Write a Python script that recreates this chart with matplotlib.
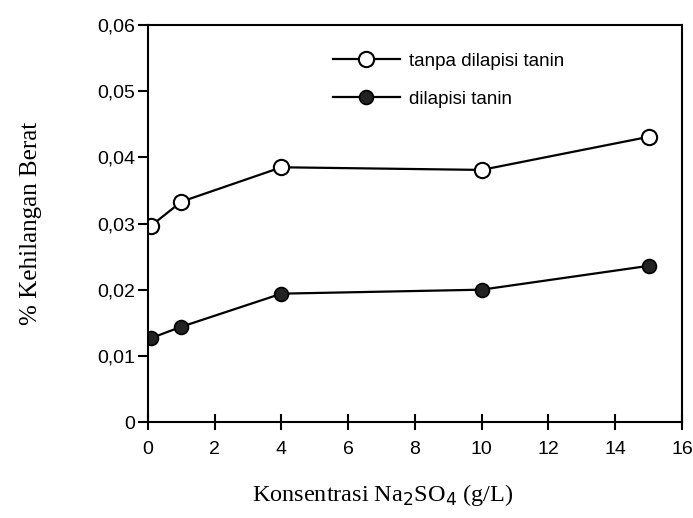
import matplotlib.pyplot as plt
from matplotlib.ticker import FixedLocator, FuncFormatter

# data
konsentrasi = [0.1, 1, 4, 10, 15]
tanpa_tanin = [0.0297, 0.0333, 0.0385, 0.0381, 0.0431]
dengan_tanin = [0.0127, 0.0144, 0.0194, 0.0200, 0.0236]
label_tanpa = "tanpa dilapisi tanin"
label_dengan = "dilapisi tanin"
xticks = [0, 2, 4, 6, 8, 10, 12, 14, 16]
yticks = [0, 0.01, 0.02, 0.03, 0.04, 0.05, 0.06]

fig = plt.figure(figsize=(6.93, 5.18), dpi=100)
ax = fig.add_axes([0.2136, 0.1853, 0.7704, 0.7664])

ax.plot(konsentrasi, tanpa_tanin, color="black", lw=1.6, marker="o",
        ms=11, mfc="white", mec="black", mew=1.5, label=label_tanpa)
ax.plot(konsentrasi, dengan_tanin, color="black", lw=1.6, marker="o",
        ms=10, mfc="#222222", mec="black", mew=1.2, label=label_dengan)

ax.set_xlim(0, 16)
ax.set_ylim(0, 0.06)
ax.xaxis.set_major_locator(FixedLocator(xticks))
ax.yaxis.set_major_locator(FixedLocator(yticks))
ax.yaxis.set_major_formatter(FuncFormatter(
    lambda v, p: "0" if v == 0 else ("%.2f" % v).replace(".", ",")))

for s in ax.spines.values():
    s.set_linewidth(1.5)
ax.tick_params(axis="y", direction="out", length=7, width=1.5, pad=2)
ax.tick_params(axis="x", direction="inout", length=12, width=1.5, pad=8)
for lab in ax.get_xticklabels() + ax.get_yticklabels():
    lab.set_fontfamily(["Liberation Sans", "DejaVu Sans"])
    lab.set_fontsize(14)

ax.set_xlabel("Konsentrasi Na$_2$SO$_4$ (g/L)", fontsize=17.5,
              family=["Liberation Serif", "DejaVu Serif"])
ax.xaxis.set_label_coords(0.44, -0.152)
ax.set_ylabel("% Kehilangan Berat", fontsize=18,
              family=["Liberation Serif", "DejaVu Serif"], labelpad=40)

leg = ax.legend(loc="upper left", bbox_to_anchor=(0.346, 0.93), frameon=False,
                borderpad=0, borderaxespad=0,
                handlelength=3.6, handletextpad=0.45, labelspacing=1.12,
                prop={"family": ["Liberation Sans", "DejaVu Sans"],
                      "size": 13.5})

fig.savefig("out.png", dpi=100)
